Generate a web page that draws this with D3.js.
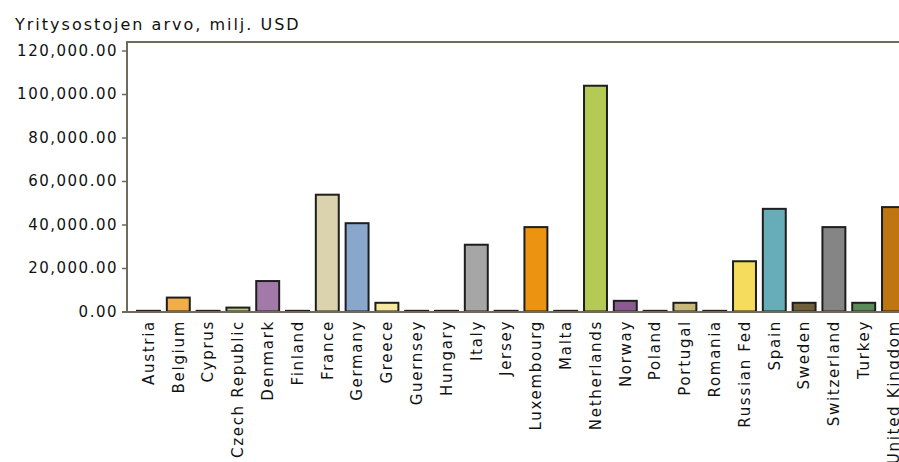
<!DOCTYPE html>
<html><head><meta charset="utf-8">
<script src="https://cdn.jsdelivr.net/npm/d3@7"></script>
<style>
html,body{margin:0;padding:0;background:#fff;}
svg{display:block;}
text{font-family:"DejaVu Sans",sans-serif;fill:#111;}
</style></head>
<body><svg id="c" width="899" height="462"></svg>
<script>
const categories = ["Austria","Belgium","Cyprus","Czech Republic","Denmark","Finland","France","Germany","Greece","Guernsey","Hungary","Italy","Jersey","Luxembourg","Malta","Netherlands","Norway","Poland","Portugal","Romania","Russian Fed","Spain","Sweden","Switzerland","Turkey","United Kingdom"];
const values = [300,6400,300,1800,14000,300,53700,40600,4000,300,300,30700,300,38800,300,103800,4900,300,4000,300,23100,47200,4000,38800,4000,48000];
const colors = ["#333333","#f0ad48","#333333","#b8c97a","#a27aa8","#333333","#dbd3ad","#89a6cc","#f5e9a0","#333333","#333333","#a6a6a6","#333333","#ec9412","#333333","#b5c955","#8b5a91","#333333","#c8b87a","#333333","#f5dc5c","#66adb8","#6f5f3a","#858585","#5a8a5a","#bf7610"];
const yTicks = [0,20000,40000,60000,80000,100000,120000];
const title = "Yritysostojen arvo, milj. USD";

const svg = d3.select("#c");
const x = d3.scaleBand().domain(categories).range([133.6, 908.4]).paddingInner(0.23).paddingOuter(0.115);
const y = d3.scaleLinear().domain([0,120000]).range([311.5, 50.5]);
const axisColor = "#6e6a5c";
const fmt = d3.format(",.2f");

// title
svg.append("text").attr("x",15).attr("y",30).attr("font-size","16px").attr("letter-spacing","2px").text(title);

// bars
svg.append("g").selectAll("rect").data(categories).join("rect")
  .attr("x", d => x(d)).attr("width", x.bandwidth())
  .attr("y", (d,i) => y(values[i])).attr("height", (d,i) => y(0) - y(values[i]))
  .attr("fill", (d,i) => colors[i]).attr("stroke","#1e1e1e").attr("stroke-width",2);

// frame: top line
svg.append("line").attr("x1",127).attr("x2",899).attr("y1",42).attr("y2",42).attr("stroke",axisColor).attr("stroke-width",2);

// y axis
const ya = svg.append("g").attr("transform","translate(127,0)")
  .call(d3.axisLeft(y).tickValues(yTicks).tickFormat(fmt).tickSize(5).tickPadding(4));
ya.select(".domain").remove();
ya.selectAll(".tick line").attr("stroke",axisColor).attr("stroke-width",1.5);
ya.selectAll(".tick text").attr("font-size","15px").attr("letter-spacing","1.5px").attr("fill","#111").attr("font-family","DejaVu Sans");
svg.append("line").attr("x1",127).attr("x2",127).attr("y1",41).attr("y2",312).attr("stroke",axisColor).attr("stroke-width",2);

// x axis
const xa = svg.append("g").attr("transform","translate(0,312)")
  .call(d3.axisBottom(x).tickSize(0).tickPadding(0));
xa.select(".domain").remove();
xa.selectAll(".tick text")
  .attr("font-size","15px").attr("letter-spacing","1.7px").attr("fill","#111").attr("font-family","DejaVu Sans")
  .attr("transform","rotate(-90)").attr("text-anchor","end").attr("dx","-8px").attr("dy","0.35em").attr("y",0).attr("x",0);
svg.append("line").attr("x1",122).attr("x2",899).attr("y1",312).attr("y2",312).attr("stroke",axisColor).attr("stroke-width",2);
</script></body></html>
